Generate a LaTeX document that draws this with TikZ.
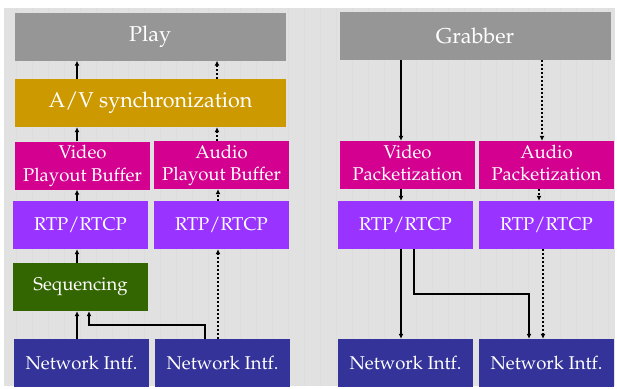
\documentclass[tikz,border=0pt]{standalone}
\usepackage[T1]{fontenc}
\usepackage{mathpazo}
\usetikzlibrary{arrows.meta}
\definecolor{bggray}{HTML}{E0E1E0}
\definecolor{gridc}{HTML}{DCDDDC}
\definecolor{boxgray}{HTML}{969696}
\definecolor{gold}{HTML}{CC9900}
\definecolor{mag}{HTML}{D4008F}
\definecolor{purp}{HTML}{9933FF}
\definecolor{grn}{HTML}{336600}
\definecolor{navy}{HTML}{333399}
\newcommand{\twolines}[2]{\raisebox{3pt}{\begin{tabular}{@{}c@{}}#1\\#2\end{tabular}}}
\tikzset{
  blk/.style={minimum width=135pt, minimum height=48pt, inner sep=0pt, text=white, align=center,
    font=\fontsize{18.5}{22.5}\selectfont},
  wide/.style={blk, minimum width=271pt, font=\fontsize{21.5}{25}\selectfont},
  arr/.style={line width=1.3pt, -{Latex[length=5pt,width=5pt]}},
  darr/.style={line width=2pt, -{Latex[length=5pt,width=5pt]}, dash pattern=on 2pt off 2pt},
}
\begin{document}
\begin{tikzpicture}[x=1pt,y=-1pt]
\useasboundingbox (0,0) rectangle (617,388);
\fill[white] (0,0) rectangle (617,388);
\fill[bggray] (4,8) rectangle (615,386);
\begin{scope}
\clip (4,8) rectangle (615,386);
\draw[gridc, line width=0.5pt, step=16] (4,8) grid (615,386);
\end{scope}
% left stack
\node[wide, fill=boxgray] (play) at (150,36.5) {Play};
\node[wide, fill=gold] (av) at (150.5,103) {A/V synchronization};
\node[blk, fill=mag] (vpb) at (82.5,165.5) {\twolines{Video}{Playout Buffer}};
\node[blk, fill=mag] (apb) at (221.5,165) {\twolines{Audio}{Playout Buffer}};
\node[blk, fill=purp] (rtpl) at (80.5,225) {RTP/RTCP};
\node[blk, fill=purp] (rtpr) at (221.5,225) {RTP/RTCP};
\node[blk, fill=grn] (seq) at (80.5,287) {Sequencing};
\node[blk, fill=navy] (netl) at (81.5,363) {Network Intf.};
\node[blk, fill=navy] (netr) at (222.5,363) {Network Intf.};
% right stack
\node[wide, fill=boxgray] (grab) at (475,36) {Grabber};
\node[blk, fill=mag] (vp) at (407.5,165) {\twolines{Video}{Packetization}};
\node[blk, fill=mag] (ap) at (546.5,165) {\twolines{Audio}{Packetization}};
\node[blk, fill=purp] (rtpv) at (405.5,225) {RTP/RTCP};
\node[blk, fill=purp] (rtpa) at (546.5,225) {RTP/RTCP};
\node[blk, fill=navy] (netv) at (405.5,363) {Network Intf.};
\node[blk, fill=navy] (neta) at (546.5,363) {Network Intf.};
% left arrows
\draw[arr] (av.north -| 77,0) -- (play.south -| 77,0);
\draw[darr] (av.north -| 217,0) -- (play.south -| 217,0);
\draw[arr] (vpb.north -| 77,0) -- (av.south -| 77,0);
\draw[darr] (apb.north -| 217,0) -- (av.south -| 217,0);
\draw[arr] (rtpl.north -| 77,0) -- (vpb.south -| 77,0);
\draw[darr] (rtpr.north -| 218,0) -- (apb.south -| 218,0);
\draw[arr] (seq.north -| 77,0) -- (rtpl.south -| 77,0);
\draw[arr] (netl.north -| 77,0) -- (seq.south -| 77,0);
\draw[arr] (netr.north -| 205,0) -- (205,325) -- (89,325) -- (seq.south -| 89,0);
\draw[darr] (netr.north -| 218,0) -- (rtpr.south -| 218,0);
% right arrows
\draw[arr] (grab.south -| 401,0) -- (vp.north -| 401,0);
\draw[darr] (grab.south -| 542,0) -- (ap.north -| 542,0);
\draw[arr] (vp.south -| 401,0) -- (rtpv.north -| 401,0);
\draw[darr] (ap.south -| 539,0) -- (rtpa.north -| 539,0);
\draw[arr] (rtpv.south -| 401,0) -- (netv.north -| 401,0);
\draw[arr] (rtpv.south -| 414,0) -- (414,294) -- (529,294) -- (neta.north -| 529,0);
\draw[darr] (rtpa.south -| 543,0) -- (neta.north -| 543,0);
\end{tikzpicture}
\end{document}
